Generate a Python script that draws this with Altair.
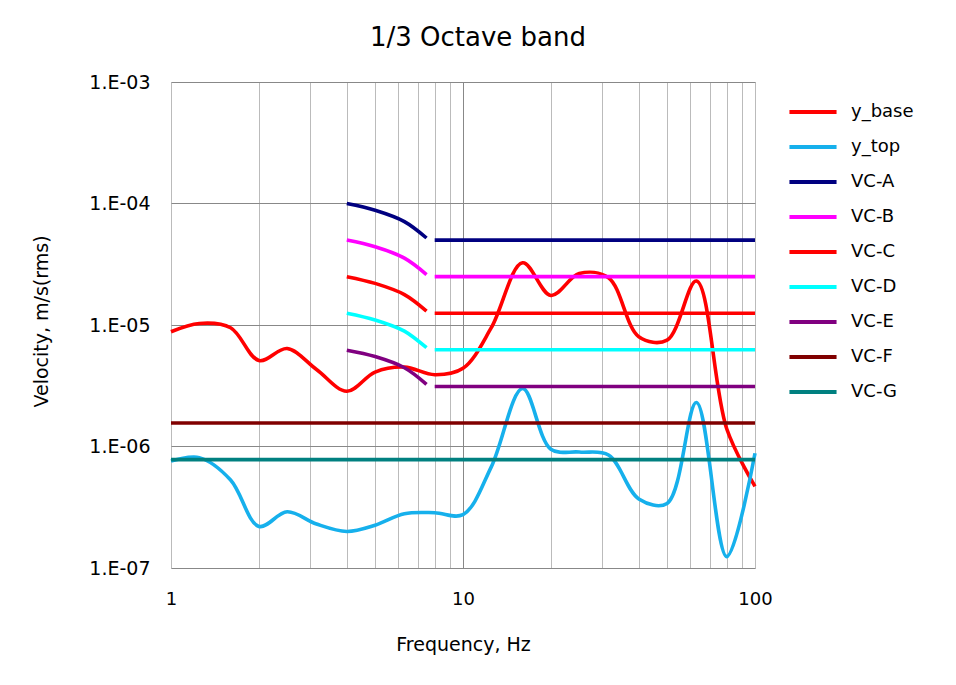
import altair as alt
import pandas as pd

# 1/3 octave band centre frequencies (Hz)
freq = [1, 1.25, 1.6, 2, 2.5, 3.15, 4, 5, 6.3, 8, 10, 12.5, 16, 20, 25, 31.5, 40, 50, 63, 80, 100]

# measured spectra (m/s rms)
y_base = [8.8e-6, 1.03e-5, 9.5e-6, 5.1e-6, 6.4e-6, 4.3e-6, 2.85e-6, 4.1e-6, 4.5e-6, 3.9e-6,
          4.4e-6, 9.5e-6, 3.25e-5, 1.75e-5, 2.65e-5, 2.45e-5, 8.0e-6, 7.5e-6, 2.3e-5, 1.4e-6, 4.7e-7]
y_top = [7.6e-7, 8.1e-7, 5.3e-7, 2.2e-7, 2.9e-7, 2.3e-7, 2.0e-7, 2.25e-7, 2.8e-7, 2.85e-7,
         2.75e-7, 6.8e-7, 3.0e-6, 9.5e-7, 9.0e-7, 8.5e-7, 3.7e-7, 3.4e-7, 2.3e-6, 1.24e-7, 8.8e-7]

# VC criteria: low-frequency segment (4 - 8 Hz) and flat segment (8 - 100 Hz)
vc_low_freq = [4, 5, 6.3, 7.5]
vc_low = {
    "VC-A": [1.0e-4, 8.8e-5, 7.1e-5, 5.2e-5],
    "VC-B": [5.0e-5, 4.4e-5, 3.55e-5, 2.6e-5],
    "VC-C": [2.5e-5, 2.2e-5, 1.78e-5, 1.3e-5],
    "VC-D": [1.25e-5, 1.1e-5, 8.9e-6, 6.5e-6],
    "VC-E": [6.2e-6, 5.5e-6, 4.45e-6, 3.25e-6],
}
vc_flat_freq = [8, 10, 12.5, 16, 20, 25, 31.5, 40, 50, 63, 80, 100]
vc_flat = {"VC-A": 5.0e-5, "VC-B": 2.5e-5, "VC-C": 1.25e-5, "VC-D": 6.25e-6, "VC-E": 3.12e-6}
vc_full = {"VC-F": 1.56e-6, "VC-G": 7.8e-7}

series_names = ["y_base", "y_top", "VC-A", "VC-B", "VC-C", "VC-D", "VC-E", "VC-F", "VC-G"]
series_colors = ["#FF0000", "#16B0EC", "#000080", "#FF00FF", "#FF0000", "#00FFFF", "#800080", "#800000", "#008080"]

rows_curves = []
for f, v in zip(freq, y_base):
    rows_curves.append({"f": f, "v": v, "series": "y_base", "seg": "y_base"})
for f, v in zip(freq, y_top):
    rows_curves.append({"f": f, "v": v, "series": "y_top", "seg": "y_top"})
df_curves = pd.DataFrame(rows_curves)

rows_vc = []
for name in ["VC-A", "VC-B", "VC-C", "VC-D", "VC-E"]:
    for f, v in zip(vc_low_freq, vc_low[name]):
        rows_vc.append({"f": f, "v": v, "series": name, "seg": name + "_low"})
    for f in vc_flat_freq:
        rows_vc.append({"f": f, "v": vc_flat[name], "series": name, "seg": name + "_flat"})
for name in ["VC-F", "VC-G"]:
    for f in freq:
        rows_vc.append({"f": f, "v": vc_full[name], "series": name, "seg": name})
df_vc = pd.DataFrame(rows_vc)

FONT = "DejaVu Sans"

x_grid_values = [1, 2, 3, 4, 5, 6, 7, 8, 9, 10, 20, 30, 40, 50, 60, 70, 80, 90, 100]
y_values = [1e-7, 1e-6, 1e-5, 1e-4, 1e-3]

x_enc = alt.X(
    "f:Q",
    scale=alt.Scale(type="log", domain=[1, 100], nice=False),
    axis=alt.Axis(
        values=x_grid_values,
        labelExpr="(datum.value == 1 || datum.value == 10 || datum.value == 100) ? format(datum.value, 'd') : ''",
        grid=True,
        gridColor={"condition": {"test": "datum.value == 10", "value": "#888888"}, "value": "#BBBBBB"},
        gridWidth=1,
        ticks=False,
        domain=False,
        labelFontSize=18,
        labelFont=FONT,
        labelColor="#000000",
        labelPadding=22,
        labelFlush=False,
        title="Frequency, Hz",
        titleFontSize=19,
        titleFont=FONT,
        titleFontWeight="normal",
        titleColor="#000000",
        titlePadding=27,
    ),
)
y_enc = alt.Y(
    "v:Q",
    scale=alt.Scale(type="log", domain=[1e-7, 1e-3], nice=False),
    axis=alt.Axis(
        values=y_values,
        labelExpr="'1.E-0' + format(round(-log(datum.value) / LN10), 'd')",
        grid=True,
        gridColor="#888888",
        gridWidth=1,
        ticks=False,
        domain=False,
        labelFontSize=19,
        labelFont=FONT,
        labelColor="#000000",
        labelPadding=21,
        labelFlush=False,
        title="Velocity, m/s(rms)",
        titleFontSize=19,
        titleFont=FONT,
        titleFontWeight="normal",
        titleColor="#000000",
        titlePadding=37,
        titleY=239,
    ),
)
color_enc = alt.Color(
    "series:N",
    scale=alt.Scale(domain=series_names, range=series_colors),
    legend=alt.Legend(
        title=None,
        orient="none",
        legendX=616,
        legendY=4,
        symbolType="stroke",
        symbolSize=2220,
        symbolStrokeWidth=4,
        labelFontSize=18,
        labelFont=FONT,
        labelColor="#000000",
        labelOffset=12,
        rowPadding=0,
        padding=0,
    ),
)

curves = alt.Chart(df_curves).mark_line(interpolate="catmull-rom", strokeWidth=3.6).encode(
    x=x_enc, y=y_enc, color=color_enc, detail="seg:N"
)
vcs = alt.Chart(df_vc).mark_line(interpolate="catmull-rom", strokeWidth=3.6).encode(
    x=x_enc, y=y_enc, color=color_enc, detail="seg:N"
)

chart = alt.layer(curves, vcs).properties(
    width=584,
    height=486,
    title=alt.TitleParams(
        "1/3 Octave band",
        fontSize=26,
        font=FONT,
        fontWeight="normal",
        color="#000000",
        anchor="middle",
        dx=15,
        offset=22,
    ),
    autosize=alt.AutoSizeParams(type="none"),
    padding={"left": 163, "top": 74, "right": 190, "bottom": 100},
).configure_view(stroke="#808080", strokeWidth=1).configure(background="#FFFFFF")

chart.save("out.html", embed_options={"renderer": "svg", "actions": False})
